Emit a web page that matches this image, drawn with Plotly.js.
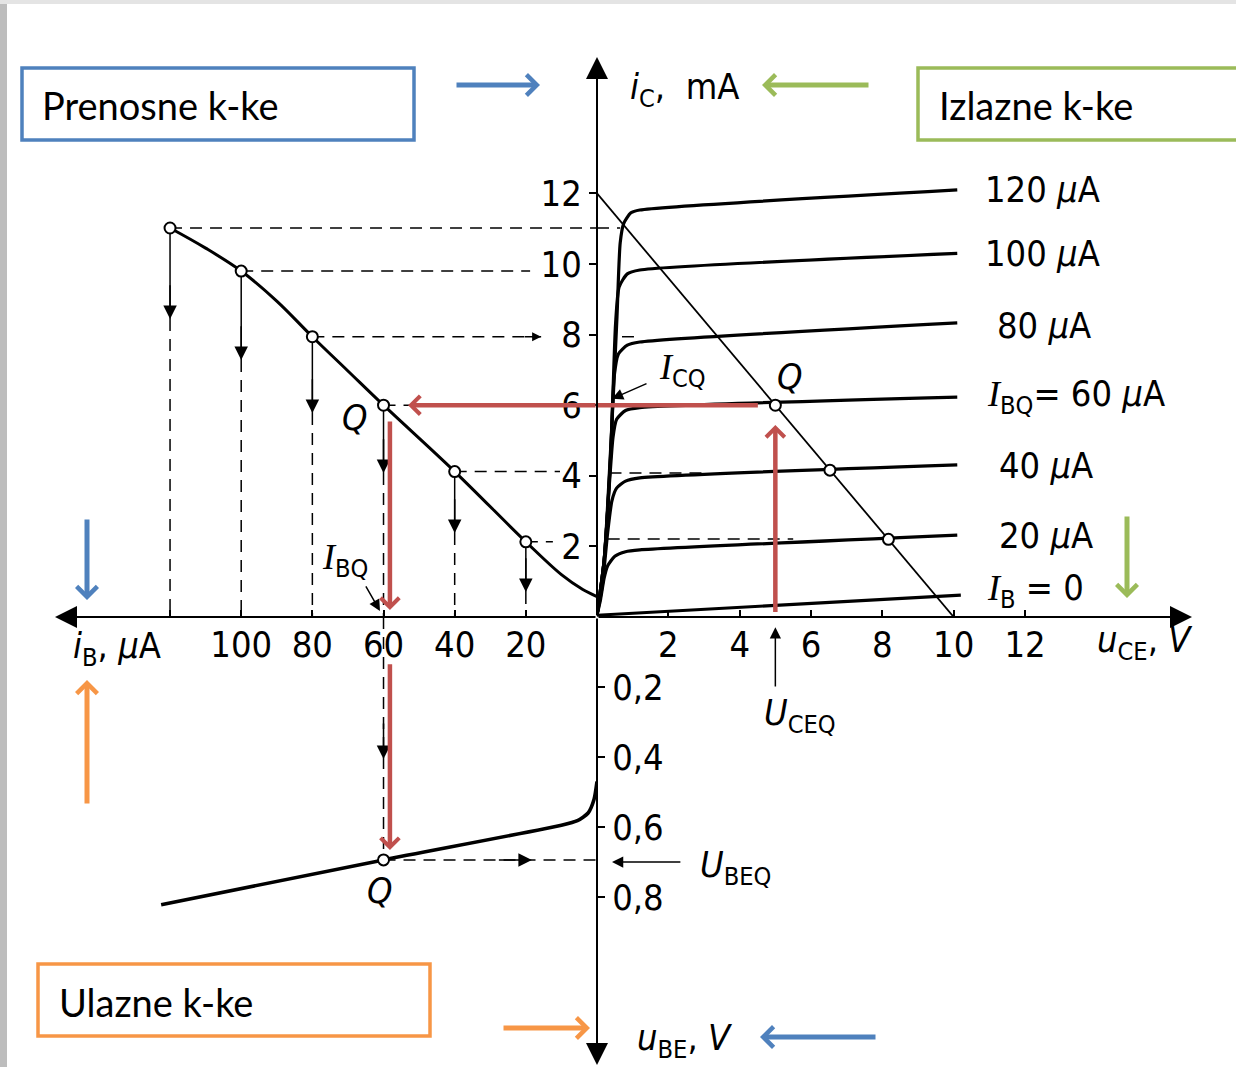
<!DOCTYPE html>
<html><head><meta charset="utf-8">
<script src="https://cdn.plot.ly/plotly-3.0.1.min.js"></script>
<style>html,body{margin:0;padding:0;background:#fff;} #chart{width:1236px;height:1067px;}</style>
</head><body><div id="chart"></div>
<script>
// ---------------- data ----------------
// output characteristics iC(uCE) for constant iB
const uce_ib0 = [0, 10.2];
const ic_ib0 = [0.05, 0.62];
const uce_ib20 = [0, 0.1, 0.2, 0.3, 0.5, 0.8, 1.2, 10.1];
const ic_ib20 = [0.05, 0.5, 1.1, 1.45, 1.72, 1.85, 1.9, 2.32];
const uce_ib40 = [0, 0.15, 0.3, 0.42, 0.55, 0.8, 1.2, 10.1];
const ic_ib40 = [0.05, 0.9, 2.4, 3.3, 3.65, 3.85, 3.94, 4.31];
const uce_ib60 = [0, 0.2, 0.35, 0.45, 0.55, 0.8, 1.2, 10.1];
const ic_ib60 = [0.05, 1.6, 3.8, 5.1, 5.6, 5.85, 5.93, 6.23];
const uce_ib80 = [0, 0.2, 0.38, 0.48, 0.6, 0.85, 1.2, 10.1];
const ic_ib80 = [0.05, 1.6, 4.5, 6.8, 7.45, 7.7, 7.79, 8.33];
const uce_ib100 = [0, 0.2, 0.4, 0.52, 0.62, 0.85, 1.2, 10.1];
const ic_ib100 = [0.05, 1.6, 5.0, 8.3, 9.35, 9.72, 9.83, 10.3];
const uce_ib120 = [0, 0.2, 0.42, 0.56, 0.65, 0.75, 0.95, 1.2, 10.1];
const ic_ib120 = [0.05, 1.6, 5.5, 8.5, 10.6, 11.15, 11.45, 11.53, 12.1];
// load line
const loadUce = [0, 10];
const loadIc = [12, 0];
// operating points on load line
const opUce = [5.0, 6.53, 8.17];
const opIc = [6.0, 4.16, 2.2];
// transfer characteristic iC(iB)
const trIb = [120, 110, 100, 90, 80, 70, 60, 40, 20, 10, 4, 0];
const trIc = [11.02, 10.45, 9.8, 8.95, 7.94, 6.97, 6.0, 4.12, 2.13, 1.2, 0.78, 0.58];
const ptIb = [120, 100, 80, 60, 40, 20];
const ptIc = [11.02, 9.8, 7.94, 6.0, 4.12, 2.13];
const tipIc = [8.44, 7.28, 5.78, 4.08, 2.38, 0.71];      // arrow tips on projection lines
const hEndIb = [0, 18.8, 15.7, 0, 10.4, 12.4];           // end of horizontal dashed lines
// input characteristic iB(uBE)
const inIb = [0, 0.8, 2.5, 5.5, 10, 60, 122.5];
const inUbe = [0.47, 0.52, 0.56, 0.582, 0.595, 0.694, 0.822];
// quiescent point
const qIb = 60, qUbe = 0.694, qUce = 5.0, qIc = 6.0;
// ticks
const uceTicks = [2, 4, 6, 8, 10, 12];
const icTicks = [2, 4, 6, 8, 10, 12];
const ibTicks = [20, 40, 60, 80, 100, 120];
const ibTickText = ['20', '40', '60', '80', '100', ''];
const ubeTicks = [0.2, 0.4, 0.6, 0.8];
const ubeTickText = ['0,2', '0,4', '0,6', '0,8'];

// ---------------- style ----------------
const W = 1236, H = 1067, X0 = 597, Y0 = 617;
const RED = '#C0504D', BLUE = '#4F81BD', GREEN = '#9BBB59', ORANGE = '#F79646';
const FN = "Liberation Sans Narrow, DejaVu Sans Condensed, Roboto Condensed, Arial Narrow, sans-serif";
const FB = "Lato, Carlito, Calibri, Open Sans, sans-serif";
const SER = 'font-family:Liberation Serif,DejaVu Serif,serif';
const DASH = '12px,8px';

const traces = [];
function addLine(x, y, xa, ya, width, dash, shape, smooth) {
  traces.push({type: 'scatter', mode: 'lines', x: x, y: y, xaxis: xa, yaxis: ya,
    line: {color: '#000', width: width, dash: dash || 'solid', shape: shape || 'linear', smoothing: smooth || 0.6},
    hoverinfo: 'skip', showlegend: false});
}
function addPts(x, y, xa, ya) {
  traces.push({type: 'scatter', mode: 'markers', x: x, y: y, xaxis: xa, yaxis: ya,
    marker: {size: 11, color: '#fff', line: {color: '#000', width: 2}}, cliponaxis: false,
    hoverinfo: 'skip', showlegend: false});
}

// output curves
[[uce_ib0, ic_ib0], [uce_ib20, ic_ib20], [uce_ib40, ic_ib40], [uce_ib60, ic_ib60],
 [uce_ib80, ic_ib80], [uce_ib100, ic_ib100], [uce_ib120, ic_ib120]].forEach(c => addLine(c[0], c[1], 'x', 'y', 3.2, null, 'spline'));
addLine(loadUce, loadIc, 'x', 'y', 1.8);
// dashed guides in output quadrant
addLine([0, 0.65], [ptIc[0], ptIc[0]], 'x', 'y', 1.5, DASH);
addLine([0.7, 1.2], [ptIc[2], ptIc[2]], 'x', 'y', 1.5, DASH);
addLine([0.35, 3.1], [4.08, 4.08], 'x', 'y', 1.5, DASH);
addLine([0.3, 5.5], [2.21, 2.21], 'x', 'y', 1.5, DASH);

// transfer quadrant
addLine(trIb, trIc, 'x2', 'y', 3, null, 'spline', 1.0);
ptIb.forEach((ib, i) => {
  addLine([ib, hEndIb[i]], [ptIc[i], ptIc[i]], 'x2', 'y', 1.5, DASH);
  addLine([ib, ib], [ptIc[i], tipIc[i]], 'x2', 'y', 1.5);
  addLine([ib, ib], [tipIc[i], 0], 'x2', 'y', 1.5, DASH);
});
// input quadrant
addLine(inIb, inUbe, 'x2', 'y2', 3.6, null, 'spline');
addLine([qIb, qIb], [0, qUbe], 'x2', 'y2', 1.5, DASH);
addLine([qIb, 0], [qUbe, qUbe], 'x2', 'y2', 1.5, DASH);

addPts(ptIb, ptIc, 'x2', 'y');
addPts(opUce, opIc, 'x', 'y');
addPts([qIb], [qUbe], 'x2', 'y2');

// ---------------- annotations ----------------
const ann = [];
function arrow(xref, yref, x, y, ax, ay, o) {
  ann.push(Object.assign({xref: xref, yref: yref, x: x, y: y, axref: xref, ayref: yref, ax: ax, ay: ay,
    text: '', showarrow: true, arrowhead: 2, arrowsize: 1.8, arrowwidth: 1.5, arrowcolor: '#000'}, o || {}));
}
function parrow(px, py, dx, dy, color) {
  ann.push({xref: 'paper', yref: 'paper', x: px / W, y: 1 - py / H, ax: dx, ay: dy, text: '',
    showarrow: true, arrowhead: 4, arrowsize: 0.8, arrowwidth: 5, arrowcolor: color});
}
function label(xref, yref, x, y, text, o) {
  ann.push(Object.assign({xref: xref, yref: yref, x: x, y: y, text: text, showarrow: false,
    font: {family: FN, size: 36, color: '#000'}, xanchor: 'center', yanchor: 'middle'}, o || {}));
}
// main axes with arrow tips
arrow('x', 'y', 0, (Y0 - 57) / 35.3, 0, 0, {arrowwidth: 2, arrowsize: 2.2});
arrow('x', 'y2', 0, (1065 - Y0) / 350, 0, 0, {arrowwidth: 2, arrowsize: 2.2});
arrow('x2', 'y', (X0 - 55) / 3.558, 0, 0, 0, {arrowwidth: 2, arrowsize: 2.2});
arrow('x', 'y', (1192 - X0) / 35.67, 0, 0, 0, {arrowwidth: 2, arrowsize: 2.2});
// projection arrows
ptIb.forEach((ib, i) => arrow('x2', 'y', ib, tipIc[i], ib, tipIc[i] + 1.0));
arrow('x2', 'y', hEndIb[2], ptIc[2], hEndIb[2] + 5, ptIc[2], {arrowsize: 1.2});
arrow('x2', 'y2', qIb, 0.406, qIb, 0.3);
arrow('x2', 'y2', 18.3, qUbe, 28, qUbe);
arrow('x', 'y', 0.42, 6.18, 1.43, 6.63, {arrowsize: 1.5});
arrow('x2', 'y', 61, 0.17, 65.2, 0.91, {arrowsize: 1.5});
arrow('x', 'y2', qUce, 0.029, qUce, 0.203, {arrowsize: 1.5});
arrow('x', 'y2', 0.42, 0.70, 2.38, 0.70, {arrowsize: 1.5});
// red arrows
const redA = {arrowhead: 4, arrowsize: 0.8, arrowwidth: 4.5, arrowcolor: RED};
arrow('x2', 'y', 53.1, qIc, 0, qIc, redA);
arrow('x2', 'y', 58.2, 0.2, 58.2, 5.58, redA);
arrow('x2', 'y2', 58.2, 0.666, 58.2, 0.131, redA);
arrow('x', 'y', qUce, 5.44, qUce, 0.1, redA);
// coloured pointer arrows (tip px, tail offset px)
parrow(540, 85, -85, 0, BLUE);
parrow(762, 85, 108, 0, GREEN);
parrow(87, 600, 0, -82, BLUE);
parrow(87, 680, 0, 125, ORANGE);
parrow(1127, 598, 0, -83, GREEN);
parrow(590, 1028, -88, 0, ORANGE);
parrow(760, 1037, 117, 0, BLUE);

// text labels
const mu = '<i>µ</i>A';
label('x', 'y', 10.82, 12.1, '120 ' + mu, {xanchor: 'left'});
label('x', 'y', 10.82, 10.31, '100 ' + mu, {xanchor: 'left'});
label('x', 'y', 11.16, 8.27, '80 ' + mu, {xanchor: 'left'});
label('x', 'y', 10.88, 6.26, '<span style="' + SER + '"><i>I</i></span><sub>BQ</sub>= 60 ' + mu, {xanchor: 'left'});
label('x', 'y', 11.21, 4.28, '40 ' + mu, {xanchor: 'left'});
label('x', 'y', 11.21, 2.32, '20 ' + mu, {xanchor: 'left'});
label('x', 'y', 10.88, 0.76, '<span style="' + SER + '"><i>I</i></span><sub>B</sub> = 0', {xanchor: 'left'});
label('x', 'y', 0.87, 14.93, '<i>i</i><sub>C</sub>,  mA', {xanchor: 'left'});
label('x', 'y', 1.68, 7.0, '<span style="' + SER + '"><i>I</i></span><sub>CQ</sub>', {xanchor: 'left'});
label('x', 'y', 5.41, 6.8, '<i>Q</i>');
label('x2', 'y', 68, 5.64, '<i>Q</i>');
label('x2', 'y', 70.8, 1.61, '<span style="' + SER + '"><i>I</i></span><sub>BQ</sub>');
label('x2', 'y2', 61, 0.78, '<i>Q</i>');
label('x', 'y2', 5.69, 0.28, '<i>U</i><sub>CEQ</sub>');
label('x', 'y2', 3.87, 0.717, '<i>U</i><sub>BEQ</sub>');
label('x', 'y2', 15.36, 0.074, '<i>u</i><sub>CE</sub>, <i>V</i>');
label('x2', 'y2', 134.9, 0.089, '<i>i</i><sub>B</sub>, ' + mu);
label('x', 'y2', 2.47, 1.209, '<i>u</i><sub>BE</sub>, <i>V</i>');
// boxed titles
const boxFont = {family: FB, size: 38, color: '#000'};
label('paper', 'paper', 40 / W, 1 - 105 / H, 'Prenosne k-ke', {xanchor: 'left', font: boxFont});
label('paper', 'paper', 937 / W, 1 - 105 / H, 'Izlazne k-ke', {xanchor: 'left', font: boxFont});
label('paper', 'paper', 57 / W, 1 - 1002 / H, 'Ulazne k-ke', {xanchor: 'left', font: boxFont});

const shapes = [
  {type: 'rect', xref: 'paper', yref: 'paper', x0: 0, x1: 7 / W, y0: 0, y1: 1, fillcolor: '#bdbdbd', line: {width: 0}, layer: 'below'},
  {type: 'rect', xref: 'paper', yref: 'paper', x0: 0, x1: 1, y0: 1 - 4 / H, y1: 1, fillcolor: '#e4e4e4', line: {width: 0}, layer: 'below'},
  {type: 'rect', xref: 'paper', yref: 'paper', x0: 22 / W, x1: 414 / W, y0: 1 - 140 / H, y1: 1 - 68 / H, line: {color: BLUE, width: 3.5}},
  {type: 'rect', xref: 'paper', yref: 'paper', x0: 918 / W, x1: 1.02, y0: 1 - 140 / H, y1: 1 - 68 / H, line: {color: GREEN, width: 3.5}},
  {type: 'rect', xref: 'paper', yref: 'paper', x0: 38 / W, x1: 430 / W, y0: 1 - 1036 / H, y1: 1 - 964 / H, line: {color: ORANGE, width: 3.5}},
  {type: 'line', xref: 'x', yref: 'y', x0: 4.51, x1: 0, y0: qIc, y1: qIc, line: {color: RED, width: 4.5}}
];

const tickFont = {family: FN, size: 36, color: '#000'};
const axBase = {showgrid: false, zeroline: false, showline: false, ticks: 'outside', ticklen: 7, tickwidth: 2,
  tickcolor: '#000', tickfont: tickFont, fixedrange: true};
const layout = {
  width: W, height: H, margin: {l: 0, r: 0, t: 0, b: 0},
  paper_bgcolor: '#fff', plot_bgcolor: 'rgba(0,0,0,0)', showlegend: false,
  xaxis: Object.assign({}, axBase, {domain: [X0 / W, 1], range: [0, (W - X0) / 35.67], anchor: 'y', tickvals: uceTicks, ticks: 'inside', ticklabelstandoff: 3}),
  xaxis2: Object.assign({}, axBase, {domain: [0, X0 / W], range: [X0 / 3.558, 0], anchor: 'y', tickvals: ibTicks, ticktext: ibTickText, ticks: 'inside', ticklabelstandoff: 3}),
  yaxis: Object.assign({}, axBase, {domain: [(H - Y0) / H, 1], range: [0, Y0 / 35.3], anchor: 'x', tickvals: icTicks}),
  yaxis2: Object.assign({}, axBase, {domain: [0, (H - Y0) / H], range: [(H - Y0) / 350, 0], anchor: 'x2', side: 'right', tickvals: ubeTicks, ticktext: ubeTickText}),
  annotations: ann, shapes: shapes
};
Plotly.newPlot('chart', traces, layout, {staticPlot: true});
</script></body></html>
